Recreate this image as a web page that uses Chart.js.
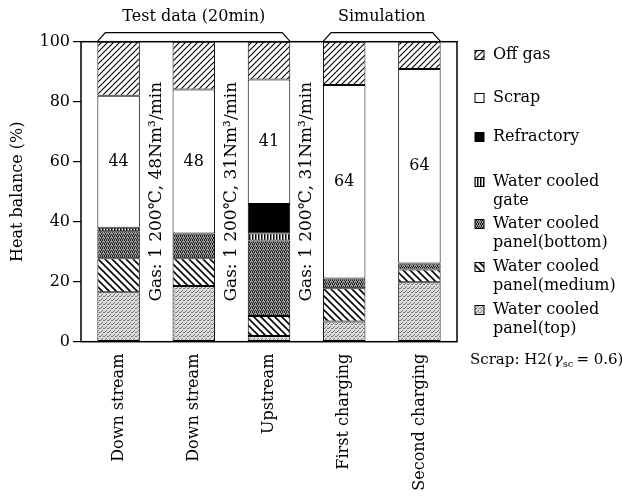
<!DOCTYPE html>
<html>
<head>
<meta charset="utf-8">
<script src="https://cdn.jsdelivr.net/npm/chart.js@4"></script>
<style>
  body { margin: 0; background: #fff; }
</style>
</head>
<body>
<canvas id="chart" width="622" height="499"></canvas>
<script>
const categories = ["Down stream", "Down stream", "Upstream", "First charging", "Second charging"];
const panelTop = [16.5, 18.6, 1.9, 6.7, 19.8];
const panelMedium = [11.3, 9.2, 6.7, 11.1, 4.3];
const panelBottom = [9.0, 8.3, 25.1, 3.3, 2.0];
const cooledGate = [1.2, null, 2.4, null, null];
const refractory = [null, null, 9.8, null, null];
const scrap = [44, 48, 41.5, 64.5, 64.8];
const offGas = [18, 15.9, 12.6, 14.4, 9.1];
const scrapLabels = ["44", "48", "41", "64", "64"];
const gasLabels = ["Gas: 1 200\u2103, 48Nm\u00b3/min", "Gas: 1 200\u2103, 31Nm\u00b3/min", "Gas: 1 200\u2103, 31Nm\u00b3/min"];
const yTicks = [0, 20, 40, 60, 80, 100];

const FONT = "DejaVu Serif";
Chart.defaults.font.family = FONT;
Chart.defaults.font.size = 16;
Chart.defaults.color = "#000";

// little canvases used as fill patterns
function makePattern(size, draw) {
  const c = document.createElement("canvas");
  c.width = size;
  c.height = size;
  const g = c.getContext("2d");
  draw(g, size);
  return g.createPattern(c, "repeat");
}
const ctx = document.getElementById("chart").getContext("2d");

const hatchFwd = makePattern(6, (g, s) => {
  g.fillStyle = "#fff"; g.fillRect(0, 0, s, s);
  g.strokeStyle = "#000"; g.lineWidth = 1.1;
  g.beginPath();
  g.moveTo(0, s); g.lineTo(s, 0);
  g.moveTo(-1, 1); g.lineTo(1, -1);
  g.moveTo(s - 1, s + 1); g.lineTo(s + 1, s - 1);
  g.stroke();
});
const hatchBack = makePattern(7, (g, s) => {
  g.fillStyle = "#fff"; g.fillRect(0, 0, s, s);
  g.strokeStyle = "#000"; g.lineWidth = 1.6;
  g.beginPath();
  g.moveTo(0, 0); g.lineTo(s, s);
  g.moveTo(-1, s - 1); g.lineTo(1, s + 1);
  g.moveTo(s - 1, -1); g.lineTo(s + 1, 1);
  g.stroke();
});
const stripes = makePattern(3, (g, s) => {
  g.fillStyle = "#fff"; g.fillRect(0, 0, s, s);
  g.fillStyle = "#000"; g.fillRect(0, 0, 1.5, s);
});
const darkDots = makePattern(4, (g, s) => {
  g.fillStyle = "#9a9a9a"; g.fillRect(0, 0, s, s);
  g.fillStyle = "#222";
  [[0, 0], [2, 0], [1, 1], [3, 2], [1, 2], [0, 3], [2, 3]].forEach(([x, y]) => g.fillRect(x, y, 1, 1));
});
const lightDots = makePattern(4, (g, s) => {
  g.fillStyle = "#dcdcdc"; g.fillRect(0, 0, s, s);
  g.fillStyle = "#777";
  [[0, 0], [2, 2], [3, 0], [1, 3]].forEach(([x, y]) => g.fillRect(x, y, 1, 1));
});

const series = [
  { label: "Water cooled\npanel(top)", data: panelTop, backgroundColor: lightDots },
  { label: "Water cooled\npanel(medium)", data: panelMedium, backgroundColor: hatchBack },
  { label: "Water cooled\npanel(bottom)", data: panelBottom, backgroundColor: darkDots },
  { label: "Water cooled\ngate", data: cooledGate, backgroundColor: stripes },
  { label: "Refractory", data: refractory, backgroundColor: "#000" },
  { label: "Scrap", data: scrap, backgroundColor: "#fff" },
  { label: "Off gas", data: offGas, backgroundColor: hatchFwd },
];
const legendY = [310, 267, 224, 182, 137, 98, 55];

const decor = {
  id: "decor",
  afterDatasetsDraw(chart) {
    const { ctx: c, chartArea: a, scales } = chart;
    const bars = chart.getDatasetMeta(0).data;
    c.save();

    // frame
    c.strokeStyle = "#000";
    c.lineWidth = 1.5;
    c.strokeRect(a.left, a.top, a.right - a.left, a.bottom - a.top);

    // numbers in the scrap part
    c.font = "16px " + FONT;
    c.fillStyle = "#000";
    c.textAlign = "center";
    c.textBaseline = "middle";
    chart.getDatasetMeta(5).data.forEach((b, i) => {
      c.fillText(scrapLabels[i], b.x, (b.y + b.base) / 2);
    });

    // gas conditions, written up the gaps
    const yMid = scales.y.getPixelForValue(50);
    c.font = "17px " + FONT;
    gasLabels.forEach((t, i) => {
      c.save();
      c.translate((bars[i].x + bars[i + 1].x) / 2, yMid);
      c.rotate(-Math.PI / 2);
      c.fillText(t, 0, 0);
      c.restore();
    });

    // brackets over the groups
    c.font = "16px " + FONT;
    const bracket = (i0, i1, text) => {
      const l = bars[i0].x - bars[i0].width / 2;
      const r = bars[i1].x + bars[i1].width / 2;
      c.lineWidth = 1.2;
      c.beginPath();
      c.moveTo(l, a.top);
      c.lineTo(l + 8, a.top - 9);
      c.lineTo(r - 8, a.top - 9);
      c.lineTo(r, a.top);
      c.stroke();
      c.fillText(text, (l + r) / 2, 17);
    };
    bracket(0, 2, "Test data (20min)");
    bracket(3, 4, "Simulation");

    // legend, top to bottom
    c.textAlign = "left";
    for (let k = series.length - 1; k >= 0; k--) {
      const y = legendY[k];
      c.fillStyle = series[k].backgroundColor;
      c.fillRect(475, y - 4.5, 9, 9);
      c.lineWidth = 1;
      c.strokeStyle = "#000";
      c.strokeRect(475, y - 4.5, 9, 9);
      c.fillStyle = "#000";
      series[k].label.split("\n").forEach((line, j) => c.fillText(line, 493, y + j * 19));
    }

    // note
    c.font = "15px " + FONT;
    let x = 470;
    c.fillText("Scrap: H2(", x, 360);
    x += c.measureText("Scrap: H2(").width;
    c.font = "italic 15px " + FONT;
    c.fillText("\u03b3", x + 1, 360);
    x += c.measureText("\u03b3").width + 1;
    c.font = "10px " + FONT;
    c.fillText("sc", x, 364);
    x += c.measureText("sc").width + 3;
    c.font = "15px " + FONT;
    c.fillText("= 0.6)", x, 360);

    c.restore();
  },
};

new Chart(ctx, {
  type: "bar",
  data: {
    labels: categories,
    datasets: series.map((s) => ({
      label: s.label,
      data: s.data,
      backgroundColor: s.backgroundColor,
      borderColor: "#000",
      borderWidth: 1,
      borderSkipped: false,
      barPercentage: 0.565,
      categoryPercentage: 1,
    })),
  },
  options: {
    responsive: false,
    animation: false,
    layout: { padding: { top: 41.7, right: 165, left: 0, bottom: 0 } },
    plugins: { legend: { display: false }, tooltip: { enabled: false } },
    scales: {
      x: {
        stacked: true,
        grid: { display: false },
        border: { display: false },
        ticks: { minRotation: 90, maxRotation: 90, padding: 4, font: { size: 16 } },
        afterFit: (s) => { s.height = 157.3; },
      },
      y: {
        stacked: true,
        min: 0,
        max: 100,
        afterBuildTicks: (s) => { s.ticks = yTicks.map((v) => ({ value: v })); },
        grid: { drawOnChartArea: false, drawTicks: true, tickLength: 8, color: "#000", lineWidth: 1.2 },
        border: { display: false },
        ticks: { padding: 3, font: { size: 16 } },
        title: { display: true, text: "Heat balance (%)", padding: { top: 8, bottom: 0 }, font: { size: 16 } },
        afterFit: (s) => { s.width = 81; },
      },
    },
  },
  plugins: [decor],
});
</script>
</body>
</html>
